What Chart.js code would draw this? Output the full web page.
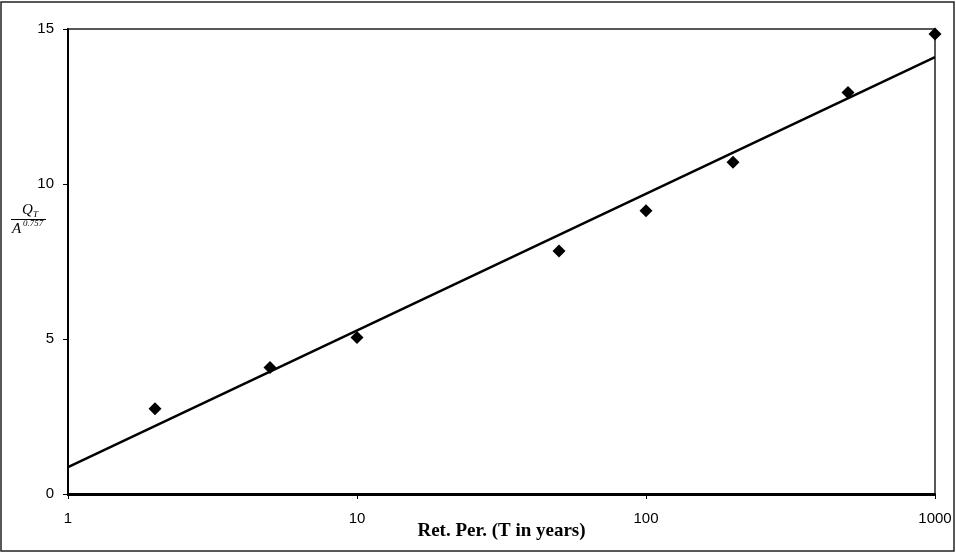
<!DOCTYPE html>
<html>
<head>
<meta charset="utf-8">
<script src="https://cdn.jsdelivr.net/npm/chart.js@4/dist/chart.umd.min.js"></script>
<style>
  html, body { margin: 0; padding: 0; background: #fff; }
  #wrap { width: 956px; height: 552px; }
</style>
</head>
<body>
<div id="wrap"><canvas id="chart" width="956" height="552"></canvas></div>
<script>
// Dados observados (período de retorno em anos e Q_T / A^0.757)
const periodos = [2, 5, 10, 50, 100, 200, 500, 1000];
const valores = [2.75, 4.08, 5.05, 7.84, 9.14, 10.7, 12.95, 14.84];

// Linha de ajuste (extremos)
const ajusteX = [1, 1000];
const ajusteY = [0.87, 14.09];

const xTicks = [1, 10, 100, 1000];
const yTicks = [0, 5, 10, 15];

// Moldura externa e borda da área do gráfico
const molduraPlugin = {
  id: 'moldura',
  beforeDatasetsDraw(chart) {
    const ctx = chart.ctx;
    const a = chart.chartArea;
    ctx.save();
    ctx.strokeStyle = '#222';
    ctx.lineWidth = 1.5;
    ctx.strokeRect(1, 2, chart.width - 3, chart.height - 3);
    ctx.beginPath();
    ctx.moveTo(a.left, a.top);
    ctx.lineTo(a.right, a.top);
    ctx.lineTo(a.right, a.bottom);
    ctx.stroke();
    ctx.restore();
  }
};

// Rótulo do eixo Y em forma de fração
const rotuloYPlugin = {
  id: 'rotuloY',
  afterDraw(chart) {
    const ctx = chart.ctx;
    ctx.save();
    ctx.fillStyle = '#000';
    ctx.textBaseline = 'alphabetic';
    ctx.textAlign = 'left';
    ctx.font = 'italic 15px "Liberation Serif"';
    ctx.fillText('Q', 22, 214);
    ctx.font = 'italic 9px "Liberation Serif"';
    ctx.fillText('T', 33, 217);
    ctx.strokeStyle = '#000';
    ctx.lineWidth = 1;
    ctx.beginPath();
    ctx.moveTo(11, 219.5);
    ctx.lineTo(46, 219.5);
    ctx.stroke();
    ctx.font = 'italic 15px "Liberation Serif"';
    ctx.fillText('A', 12, 233);
    ctx.font = 'italic 9px "Liberation Serif"';
    ctx.fillText('0.757', 23, 226);
    ctx.restore();
  }
};

const ctx = document.getElementById('chart').getContext('2d');
new Chart(ctx, {
  type: 'scatter',
  data: {
    datasets: [
      {
        label: 'Observado',
        data: periodos.map((p, i) => ({ x: p, y: valores[i] })),
        pointStyle: 'rectRot',
        pointRadius: 6.5,
        backgroundColor: '#000',
        borderColor: '#000',
        borderWidth: 0,
        showLine: false,
        clip: false
      },
      {
        label: 'Ajuste',
        data: ajusteX.map((p, i) => ({ x: p, y: ajusteY[i] })),
        showLine: true,
        borderColor: '#000',
        borderWidth: 2.5,
        pointRadius: 0,
        fill: false
      }
    ]
  },
  options: {
    responsive: false,
    animation: false,
    layout: { padding: { left: 0, top: 29, right: 21, bottom: 0 } },
    plugins: {
      legend: { display: false },
      tooltip: { enabled: false }
    },
    scales: {
      x: {
        type: 'logarithmic',
        min: 1,
        max: 1000,
        afterBuildTicks: (scale) => { scale.ticks = xTicks.map(v => ({ value: v })); },
        afterFit: (scale) => {
          scale.height = 58;
          scale.paddingLeft = 0;
          scale.paddingRight = 0;
        },
        ticks: {
          color: '#000',
          font: { family: 'Liberation Sans', size: 15 },
          padding: 11,
          maxRotation: 0,
          callback: (v) => String(v)
        },
        grid: {
          display: true,
          drawOnChartArea: false,
          drawTicks: true,
          tickLength: 5,
          color: '#000'
        },
        border: { display: true, color: '#000', width: 3 },
        title: {
          display: true,
          text: 'Ret. Per. (T in years)',
          color: '#000',
          font: { family: 'Liberation Serif', size: 19, weight: 'bold' },
          padding: { top: 0, bottom: 10 }
        }
      },
      y: {
        type: 'linear',
        min: 0,
        max: 15,
        afterBuildTicks: (scale) => { scale.ticks = yTicks.map(v => ({ value: v })); },
        afterFit: (scale) => {
          scale.width = 68;
          scale.paddingTop = 0;
          scale.paddingBottom = 0;
        },
        ticks: {
          color: '#000',
          font: { family: 'Liberation Sans', size: 15 },
          padding: 9
        },
        grid: {
          display: true,
          drawOnChartArea: false,
          drawTicks: true,
          tickLength: 5,
          color: '#000'
        },
        border: { display: true, color: '#000', width: 2 }
      }
    }
  },
  plugins: [molduraPlugin, rotuloYPlugin]
});
</script>
</body>
</html>
